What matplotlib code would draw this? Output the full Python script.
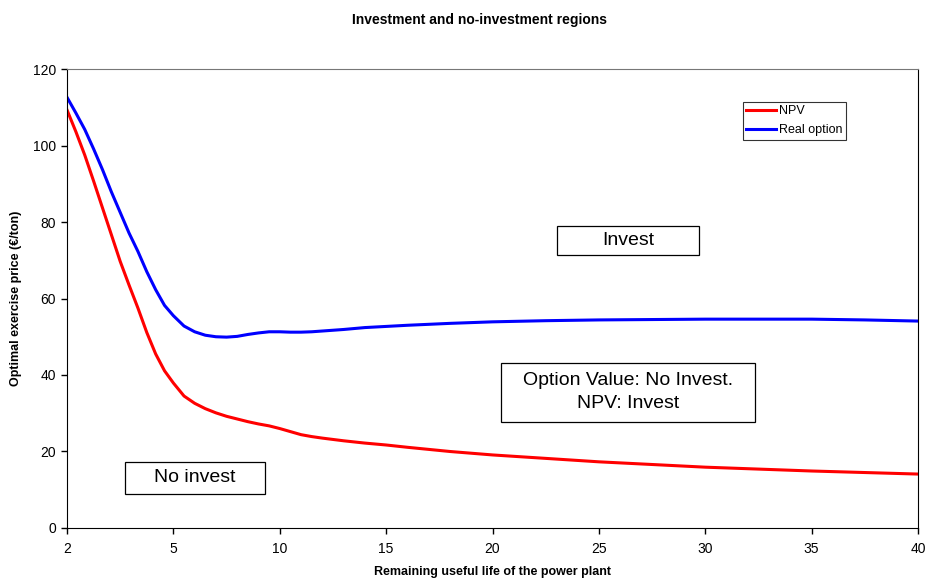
import numpy as np
import matplotlib
matplotlib.use('Agg')
import matplotlib.pyplot as plt
from matplotlib.patches import Rectangle

plt.rcParams['font.family'] = ['Liberation Sans', 'DejaVu Sans']

# remaining life (years) and optimal exercise price (EUR/ton)
years = [2, 2.25, 2.5, 2.75, 3, 3.25, 3.5, 3.75, 4, 4.25, 4.5, 4.75, 5, 5.5, 6, 6.5, 7, 7.5, 8, 8.5,
         9, 9.5, 10, 10.5, 11, 11.5, 12, 13, 14, 15, 16, 18, 20, 22.5, 25, 27.5, 30, 32.5, 35, 37.5, 40]
npv = [109.3, 103.6, 97.5, 90.7, 83.7, 76.7, 69.7, 63.5, 57.5, 51.1, 45.5, 41.1, 37.9, 34.5, 32.6,
       31.2, 30.1, 29.2, 28.5, 27.8, 27.2, 26.7, 26.0, 25.2, 24.4, 23.9, 23.5, 22.8, 22.2, 21.7,
       21.1, 20.0, 19.1, 18.2, 17.3, 16.6, 15.9, 15.4, 14.9, 14.5, 14.1]
real_option = [112.6, 108.5, 104.2, 99.1, 93.7, 87.9, 82.5, 77.1, 72.3, 67.0, 62.3, 58.2, 55.5, 52.8,
               51.3, 50.4, 50.0, 49.9, 50.1, 50.6, 51.0, 51.3, 51.3, 51.2, 51.2, 51.3, 51.5, 51.9,
               52.4, 52.7, 53.0, 53.5, 53.9, 54.2, 54.4, 54.5, 54.6, 54.6, 54.6, 54.4, 54.1]

x_ticks = [2, 5, 10, 15, 20, 25, 30, 35, 40]
y_ticks = [0, 20, 40, 60, 80, 100, 120]

# the x axis in the original is spaced evenly between labels (2->5 same width as 5->10)
tick_pos = np.arange(len(x_ticks))


def forward(x):
    return np.interp(x, x_ticks, tick_pos)


def inverse(p):
    return np.interp(p, tick_pos, x_ticks)


fig = plt.figure(figsize=(9.27, 5.79), dpi=100)
ax = fig.add_axes([0.0723, 0.0881, 0.918, 0.7927])
ax.set_xscale('function', functions=(forward, inverse))

ax.plot(years, npv, color='#ff0000', lw=2.2, label='NPV', solid_joinstyle='round')
ax.plot(years, real_option, color='#0000ff', lw=2.2, label='Real option', solid_joinstyle='round')

ax.set_xlim(2, 40)
ax.set_ylim(0, 120)
ax.set_xticks(x_ticks)
ax.set_xticklabels([str(t) for t in x_ticks])
ax.set_yticks(y_ticks)
ax.minorticks_off()
ax.tick_params(direction='out', length=4, width=1, labelsize=10, pad=4)
ax.tick_params(axis='x', pad=6)

ax.spines['top'].set_color('#777777')
for s in ['left', 'bottom', 'right']:
    ax.spines[s].set_color('black')

ax.set_xlabel('Remaining useful life of the power plant', fontsize=9, fontweight='bold', labelpad=7)
ax.set_ylabel('Optimal exercise price (€/ton)', fontsize=9, fontweight='bold', labelpad=8)
fig.text(0.517, 0.965, 'Investment and no-investment regions', fontsize=10, fontweight='bold',
         ha='center', va='center')

leg = ax.legend(loc='upper left', bbox_to_anchor=(0.794, 0.929), fontsize=9, frameon=True,
                fancybox=False, handlelength=2.4, handletextpad=0.2, borderpad=0.3,
                labelspacing=0.55, borderaxespad=0)
leg.get_frame().set_edgecolor('black')
leg.get_frame().set_linewidth(0.8)

# region labels in boxes
boxes = [
    ((0.576, 0.595), 0.167, 0.064, (0.659, 0.627), 'Invest'),
    ((0.510, 0.232), 0.298, 0.127, (0.659, 0.296), 'Option Value: No Invest.\nNPV: Invest'),
    ((0.068, 0.074), 0.165, 0.069, (0.150, 0.110), 'No invest'),
]
for (x0, y0), w, h, (tx, ty), label in boxes:
    ax.add_patch(Rectangle((x0, y0), w, h, transform=ax.transAxes, fill=True,
                           facecolor='white', edgecolor='black', lw=0.9, zorder=3))
    ax.text(tx, ty, label, transform=ax.transAxes, ha='center', va='center',
            fontsize=14, linespacing=1.5, zorder=4)

fig.savefig('out.png', dpi=100)
